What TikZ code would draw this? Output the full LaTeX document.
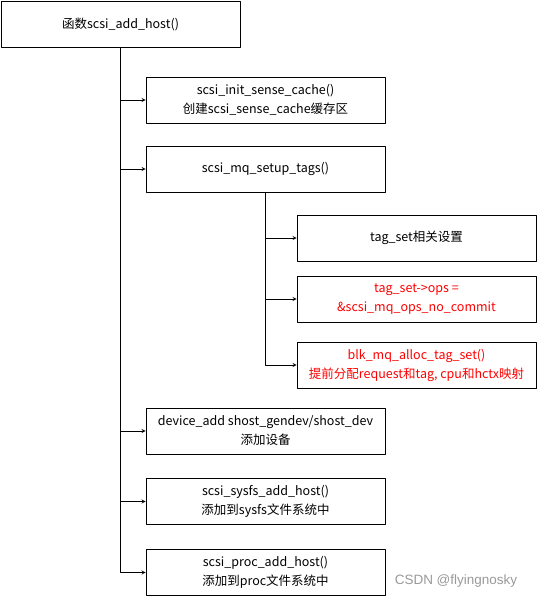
\documentclass[tikz,border=0pt]{standalone}
\usepackage{fontspec}
\newfontfamily\cjk{Noto Sans CJK SC}
\newfontfamily\wmfont{Liberation Sans}
\begin{document}
\begin{tikzpicture}[x=1pt,y=-1pt,font=\cjk\fontsize{12.5}{19}\selectfont,line join=round,>=stealth,
	fbox/.style={draw,line width=0.8pt,minimum width=239pt,minimum height=46pt,align=center,inner sep=1pt},
	hot/.style={text=red}]
	\useasboundingbox (0,0) rectangle (537,597);
	\node[fbox] (host) at (120.5,24) {函数scsi\_add\_host()};
	\node[fbox] (sense) at (265.5,100) {scsi\_init\_sense\_cache()\\创建scsi\_sense\_cache缓存区};
	\node[fbox] (tags) at (265.5,169) {scsi\_mq\_setup\_tags()};
	\node[fbox] (tagset) at (416.5,238) {tag\_set相关设置};
	\node[fbox,hot] (ops) at (416.5,299) {tag\_set->ops =\\\&scsi\_mq\_ops\_no\_commit};
	\node[fbox,hot] (alloc) at (416.5,365) {blk\_mq\_alloc\_tag\_set()\\提前分配request和tag, cpu和hctx映射};
	\node[fbox] (devadd) at (265.5,431) {device\_add shost\_gendev/shost\_dev\\添加设备};
	\node[fbox] (sysfs) at (265.5,501.5) {scsi\_sysfs\_add\_host()\\添加到sysfs文件系统中};
	\node[fbox] (proc) at (265.5,572.5) {scsi\_proc\_add\_host()\\添加到proc文件系统中};
	\node[text=black!40,font=\wmfont\fontsize{13.5}{15}\selectfont] (mark) at (456,581) {CSDN @flyingnosky};
	% trunk
	\foreach \t in {sense,tags,devadd,sysfs,proc}
		\draw[->,line width=0.8pt] (host.south) |- (\t.west);
	% tag_set branch
	\foreach \t in {tagset,ops,alloc}
		\draw[->,line width=0.8pt] (tags.south) |- (\t.west);
\end{tikzpicture}
\end{document}
